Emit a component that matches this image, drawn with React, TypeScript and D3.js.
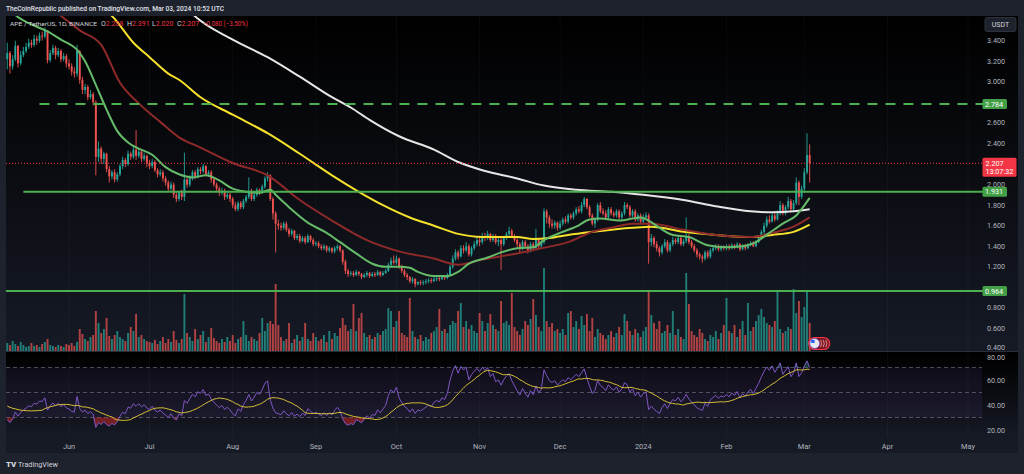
import React, { useEffect, useRef } from 'react';
import * as d3 from 'd3';

// daily candles, first one is 2023-05-09, last one 2024-03-03
const firstDay = Date.UTC(2023, 4, 9);
const firstOpen = 3.22;

const closes = [
  // May
  3.28, 3.15, 3.22, 3.35, 3.18, 3.26, 3.30, 3.34, 3.38, 3.36, 3.42, 3.40, 3.45, 3.44, 3.50, 3.21, 3.28, 3.33, 3.26, 3.30, 3.22, 3.25, 3.18,
  // Jun
  3.15, 3.10, 3.08, 3.30, 3.02, 2.92, 2.95, 2.85, 2.88, 2.80, 2.27, 2.35, 2.25, 2.30, 2.15, 2.08, 2.12, 2.05, 2.10, 2.18, 2.24, 2.20, 2.30, 2.27, 2.34, 2.28, 2.32, 2.25, 2.28, 2.21,
  // Jul
  2.18, 2.22, 2.14, 2.10, 2.12, 2.06, 2.02, 1.96, 2.00, 1.90, 1.86, 1.92, 1.88, 2.05, 2.00, 2.06, 2.12, 2.08, 2.15, 2.13, 2.18, 2.10, 2.12, 2.05, 2.00, 1.96, 1.92, 1.94, 1.88, 1.90, 1.86,
  // Aug
  1.80, 1.76, 1.82, 1.78, 1.84, 1.88, 1.94, 1.86, 1.90, 1.95, 1.93, 1.98, 2.06, 2.09, 1.86, 1.72, 1.62, 1.60, 1.58, 1.62, 1.56, 1.52, 1.55, 1.48, 1.50, 1.45, 1.48, 1.44, 1.50, 1.46, 1.42,
  // Sep
  1.43, 1.40, 1.38, 1.40, 1.36, 1.38, 1.35, 1.38, 1.40, 1.36, 1.25, 1.16, 1.13, 1.14, 1.12, 1.15, 1.13, 1.10, 1.12, 1.14, 1.11, 1.13, 1.12, 1.15, 1.12, 1.14, 1.16, 1.22, 1.26, 1.24,
  // Oct
  1.28, 1.20, 1.16, 1.12, 1.10, 1.06, 1.08, 1.03, 1.05, 1.04, 1.05, 1.06, 1.07, 1.06, 1.08, 1.09, 1.08, 1.10, 1.09, 1.12, 1.20, 1.28, 1.34, 1.30, 1.38, 1.36, 1.40, 1.32, 1.38, 1.42, 1.46,
  // Nov
  1.44, 1.50, 1.48, 1.52, 1.46, 1.50, 1.44, 1.46, 1.42, 1.48, 1.52, 1.55, 1.50, 1.46, 1.42, 1.38, 1.44, 1.40, 1.36, 1.42, 1.38, 1.47, 1.40, 1.44, 1.74, 1.68, 1.62, 1.60, 1.63, 1.58,
  // Dec
  1.62, 1.66, 1.64, 1.70, 1.68, 1.72, 1.76, 1.74, 1.80, 1.86, 1.78, 1.70, 1.62, 1.66, 1.80, 1.74, 1.72, 1.68, 1.76, 1.72, 1.70, 1.74, 1.68, 1.72, 1.80, 1.78, 1.70, 1.74, 1.66, 1.70, 1.64,
  // Jan
  1.68, 1.70, 1.44, 1.48, 1.42, 1.38, 1.34, 1.40, 1.44, 1.36, 1.42, 1.46, 1.44, 1.48, 1.42, 1.45, 1.50, 1.44, 1.40, 1.36, 1.32, 1.30, 1.28, 1.34, 1.30, 1.36, 1.38, 1.40, 1.37, 1.39, 1.38,
  // Feb
  1.40, 1.38, 1.41, 1.39, 1.42, 1.37, 1.40, 1.38, 1.41, 1.43, 1.40, 1.44, 1.48, 1.54, 1.60, 1.66, 1.64, 1.70, 1.66, 1.72, 1.80, 1.72, 1.78, 1.84, 1.76, 1.82, 2.02, 1.88, 1.96,
  // Mar
  2.12, 2.288, 2.207,
];

const highs = [
  3.38, 3.30, 3.26, 3.40, 3.36, 3.30, 3.34, 3.38, 3.42, 3.41, 3.46, 3.45, 3.48, 3.49, 3.53, 3.50, 3.31, 3.36, 3.35, 3.33, 3.32, 3.28, 3.27,
  3.22, 3.18, 3.14, 3.36, 3.31, 3.05, 2.98, 2.97, 2.92, 2.90, 2.82, 2.42, 2.37, 2.32, 2.31, 2.18, 2.14, 2.15, 2.12, 2.20, 2.27, 2.26, 2.33, 2.32, 2.38, 2.53, 2.35, 2.33, 2.31, 2.29,
  2.24, 2.25, 2.24, 2.16, 2.15, 2.14, 2.08, 2.04, 2.03, 2.02, 1.93, 1.94, 1.95, 2.31, 2.08, 2.09, 2.14, 2.14, 2.17, 2.17, 2.20, 2.19, 2.14, 2.14, 2.07, 2.02, 1.98, 1.97, 1.96, 1.92, 1.92,
  1.88, 1.83, 1.84, 1.84, 1.86, 1.90, 2.07, 1.96, 1.92, 1.97, 1.96, 2.00, 2.08, 2.12, 2.10, 1.88, 1.74, 1.66, 1.63, 1.64, 1.64, 1.58, 1.57, 1.56, 1.52, 1.52, 1.50, 1.50, 1.52, 1.51, 1.48,
  1.45, 1.45, 1.42, 1.42, 1.41, 1.40, 1.39, 1.40, 1.42, 1.41, 1.37, 1.27, 1.18, 1.16, 1.16, 1.17, 1.16, 1.14, 1.14, 1.16, 1.15, 1.15, 1.15, 1.17, 1.16, 1.16, 1.18, 1.24, 1.29, 1.31,
  1.31, 1.29, 1.22, 1.18, 1.14, 1.11, 1.10, 1.09, 1.06, 1.07, 1.07, 1.08, 1.09, 1.09, 1.10, 1.11, 1.11, 1.12, 1.12, 1.14, 1.22, 1.31, 1.37, 1.36, 1.41, 1.41, 1.44, 1.42, 1.40, 1.45, 1.49,
  1.50, 1.53, 1.53, 1.55, 1.53, 1.52, 1.52, 1.48, 1.48, 1.50, 1.54, 1.59, 1.57, 1.52, 1.48, 1.44, 1.46, 1.46, 1.42, 1.44, 1.44, 1.57, 1.48, 1.46, 1.77, 1.76, 1.70, 1.66, 1.65, 1.64,
  1.65, 1.68, 1.69, 1.72, 1.72, 1.74, 1.78, 1.79, 1.83, 1.88, 1.87, 1.80, 1.72, 1.68, 1.82, 1.83, 1.77, 1.75, 1.78, 1.78, 1.74, 1.76, 1.76, 1.74, 1.83, 1.82, 1.80, 1.76, 1.76, 1.72, 1.72,
  1.71, 1.73, 1.72, 1.52, 1.50, 1.45, 1.40, 1.42, 1.47, 1.46, 1.44, 1.49, 1.48, 1.50, 1.50, 1.47, 1.68, 1.52, 1.46, 1.42, 1.38, 1.34, 1.32, 1.36, 1.36, 1.38, 1.40, 1.42, 1.42, 1.41, 1.41,
  1.42, 1.42, 1.43, 1.42, 1.44, 1.43, 1.42, 1.42, 1.43, 1.45, 1.45, 1.46, 1.50, 1.56, 1.63, 1.69, 1.70, 1.73, 1.74, 1.75, 1.84, 1.82, 1.80, 1.88, 1.86, 1.85, 2.07, 2.04, 1.99,
  2.16, 2.50, 2.391,
];

const lows = [
  3.12, 3.08, 3.12, 3.20, 3.14, 3.16, 3.24, 3.28, 3.32, 3.33, 3.34, 3.36, 3.38, 3.40, 3.42, 3.18, 3.19, 3.26, 3.22, 3.24, 3.19, 3.20, 3.14,
  3.12, 3.06, 3.04, 3.05, 2.98, 2.88, 2.88, 2.82, 2.83, 2.77, 2.09, 2.22, 2.20, 2.20, 2.12, 2.02, 2.05, 2.02, 2.03, 2.08, 2.15, 2.17, 2.18, 2.24, 2.25, 2.24, 2.26, 2.22, 2.23, 2.17,
  2.15, 2.16, 2.12, 2.07, 2.08, 2.03, 1.99, 1.93, 1.94, 1.87, 1.83, 1.84, 1.85, 1.84, 1.97, 1.98, 2.04, 2.05, 2.06, 2.10, 2.11, 2.08, 2.08, 2.02, 1.98, 1.93, 1.89, 1.90, 1.85, 1.86, 1.83,
  1.77, 1.74, 1.74, 1.76, 1.76, 1.82, 1.86, 1.84, 1.84, 1.88, 1.90, 1.91, 1.96, 2.03, 1.84, 1.66, 1.34, 1.56, 1.55, 1.56, 1.54, 1.49, 1.50, 1.46, 1.46, 1.43, 1.44, 1.42, 1.43, 1.44, 1.40,
  1.40, 1.38, 1.36, 1.36, 1.34, 1.34, 1.33, 1.33, 1.36, 1.34, 1.22, 1.13, 1.10, 1.11, 1.10, 1.11, 1.11, 1.08, 1.09, 1.10, 1.09, 1.10, 1.10, 1.11, 1.10, 1.11, 1.13, 1.15, 1.20, 1.22,
  1.22, 1.18, 1.14, 1.10, 1.07, 1.04, 1.04, 1.00, 1.02, 1.02, 1.02, 1.03, 1.04, 1.04, 1.05, 1.06, 1.06, 1.07, 1.07, 1.08, 1.11, 1.18, 1.26, 1.27, 1.29, 1.33, 1.34, 1.30, 1.30, 1.36, 1.40,
  1.40, 1.42, 1.45, 1.46, 1.44, 1.44, 1.42, 1.40, 1.17, 1.40, 1.46, 1.50, 1.48, 1.44, 1.39, 1.34, 1.36, 1.38, 1.33, 1.34, 1.35, 1.36, 1.38, 1.38, 1.42, 1.62, 1.58, 1.57, 1.57, 1.55,
  1.56, 1.60, 1.62, 1.62, 1.66, 1.66, 1.70, 1.72, 1.72, 1.78, 1.76, 1.68, 1.60, 1.58, 1.64, 1.72, 1.70, 1.66, 1.66, 1.70, 1.68, 1.68, 1.66, 1.66, 1.70, 1.76, 1.68, 1.68, 1.64, 1.64, 1.62,
  1.62, 1.66, 1.23, 1.40, 1.39, 1.35, 1.30, 1.32, 1.38, 1.34, 1.34, 1.40, 1.42, 1.42, 1.40, 1.40, 1.43, 1.42, 1.38, 1.34, 1.29, 1.27, 1.24, 1.26, 1.28, 1.28, 1.34, 1.36, 1.35, 1.35, 1.36,
  1.36, 1.36, 1.37, 1.37, 1.38, 1.35, 1.36, 1.36, 1.37, 1.40, 1.39, 1.39, 1.43, 1.47, 1.52, 1.58, 1.62, 1.63, 1.64, 1.65, 1.70, 1.70, 1.70, 1.76, 1.74, 1.74, 1.80, 1.80, 1.86,
  1.92, 2.10, 2.020,
];

// volume, millions of APE
const volumes = [
  8, 6, 10, 7, 5, 9, 6, 4, 5, 8, 5, 6, 4, 7, 9, 12, 6, 5, 4, 6, 5, 4, 7,
  6, 8, 5, 9, 22, 17, 12, 10, 14, 16, 40, 28, 18, 22, 33, 15, 12, 16, 20, 14, 12, 10, 18, 24, 20, 37, 14, 16, 12, 10,
  9, 8, 11, 7, 10, 14, 8, 12, 9, 20, 11, 8, 12, 57, 18, 14, 10, 22, 12, 16, 20, 9, 14, 23, 13, 10, 8, 12, 9, 14, 10,
  16, 8, 12, 14, 30, 16, 10, 14, 12, 10, 18, 33, 20, 28, 30, 27, 67, 26, 14, 10, 12, 28, 8, 12, 16, 10, 14, 28, 12, 10, 18,
  14, 10, 12, 16, 9, 20, 12, 18, 15, 23, 33, 26, 20, 22, 47, 20, 33, 38, 18, 14, 16, 12, 14, 18, 16, 20, 22, 43, 40, 24,
  30, 40, 18, 16, 14, 53, 20, 14, 12, 16, 10, 14, 12, 18, 20, 24, 42, 20, 22, 18, 26, 30, 28, 40, 48, 24, 30, 22, 26, 20, 18,
  38, 30, 20, 28, 37, 26, 22, 20, 50, 28, 30, 26, 58, 24, 20, 16, 22, 30, 26, 32, 52, 36, 24, 20, 83, 30, 24, 28, 20, 22,
  18, 22, 16, 38, 40, 24, 30, 22, 35, 26, 37, 20, 33, 14, 22, 18, 16, 12, 16, 20, 14, 18, 24, 16, 37, 30, 20, 16, 22, 18, 14,
  20, 24, 59, 36, 28, 22, 30, 18, 20, 26, 18, 40, 16, 22, 14, 12, 78, 47, 20, 16, 14, 22, 18, 12, 10, 16, 14, 20, 12, 18, 26,
  53, 20, 18, 26, 14, 22, 30, 16, 48, 20, 24, 30, 36, 42, 34, 28, 26, 24, 30, 61, 22, 18, 20, 24, 22, 62, 38, 50, 34,
  44, 60, 28,
];

// moving averages: [day index, value]
const ma20: [number, number][] = [
  [0, 3.72], [4, 3.63], [8, 3.57], [15, 3.49], [20, 3.41], [26, 3.31], [29, 3.20], [33, 2.97], [37, 2.73], [41, 2.52],
  [45, 2.41], [49, 2.35], [54, 2.29], [59, 2.17], [64, 2.10], [69, 2.07], [74, 2.09], [79, 2.04], [84, 1.96], [89, 1.93],
  [94, 1.92], [98, 1.95], [100, 1.90], [105, 1.78], [112, 1.63], [119, 1.53], [124, 1.44], [130, 1.33], [136, 1.23],
  [141, 1.20], [146, 1.20], [150, 1.19], [153, 1.15], [159, 1.11], [164, 1.11], [168, 1.15], [172, 1.23], [179, 1.29],
  [184, 1.34], [190, 1.38], [196, 1.39], [200, 1.46], [206, 1.53], [212, 1.59], [217, 1.66], [221, 1.67], [228, 1.65],
  [236, 1.68], [239, 1.65], [243, 1.58], [248, 1.51], [254, 1.49], [261, 1.41], [268, 1.39], [274, 1.40], [279, 1.44],
  [284, 1.53], [289, 1.62], [294, 1.70], [299, 1.87],
];
const ma50: [number, number][] = [
  [15, 3.75], [21, 3.62], [27, 3.50], [35, 3.36], [42, 2.99], [49, 2.79], [57, 2.61], [64, 2.46], [72, 2.36], [84, 2.21],
  [97, 2.09], [109, 1.85], [121, 1.65], [134, 1.46], [146, 1.35], [159, 1.28], [168, 1.22], [177, 1.27], [190, 1.33],
  [199, 1.38], [209, 1.44], [218, 1.54], [225, 1.58], [233, 1.62], [240, 1.62], [252, 1.56], [264, 1.51], [277, 1.49],
  [285, 1.53], [293, 1.59], [299, 1.68],
];
const ma100: [number, number][] = [
  [35, 3.72], [39, 3.64], [47, 3.38], [53, 3.24], [60, 3.08], [64, 3.02], [72, 2.85], [84, 2.68], [97, 2.50], [109, 2.30],
  [121, 2.09], [131, 1.93], [140, 1.80], [150, 1.68], [159, 1.60], [168, 1.52], [177, 1.49], [190, 1.49], [196, 1.47],
  [202, 1.48], [209, 1.51], [218, 1.54], [233, 1.58], [240, 1.59], [252, 1.54], [264, 1.51], [277, 1.49], [285, 1.51],
  [293, 1.54], [299, 1.61],
];
const ma200: [number, number][] = [
  [64, 3.80], [69, 3.66], [84, 3.41], [97, 3.24], [109, 3.05], [121, 2.85], [128, 2.75], [135, 2.63], [146, 2.47],
  [159, 2.34], [168, 2.22], [177, 2.14], [190, 2.06], [200, 1.99], [212, 1.95], [225, 1.93], [237, 1.90], [252, 1.85],
  [264, 1.79], [277, 1.74], [285, 1.73], [293, 1.74], [299, 1.76],
];

// horizontal levels drawn on the chart
const levelPrices = [2.784, 1.931, 0.964];
const levelFromDay = [12, 6, -3];
const levelDashed = [true, false, false];

// RSI(14) state before the first visible day
const rsiSeedGain = 0.035;
const rsiSeedLoss = 0.09;
const rsiSignalSeed = 40;

const priceTicks = [0.4, 0.6, 0.8, 1.0, 1.2, 1.4, 1.6, 1.8, 2.0, 2.2, 2.4, 2.6, 2.8, 3.0, 3.2, 3.4];
const rsiTicks = [20, 40, 60, 80];
const rsiGuides = [70, 50, 30];
const monthDates = ['2023-06-01', '2023-07-01', '2023-08-01', '2023-09-01', '2023-10-01', '2023-11-01', '2023-12-01', '2024-01-01', '2024-02-01', '2024-03-01', '2024-04-01', '2024-05-01'];
const monthNames = ['Jun', 'Jul', 'Aug', 'Sep', 'Oct', 'Nov', 'Dec', '2024', 'Feb', 'Mar', 'Apr', 'May'];

const lastPrice = 2.207;
const countdown = '13:07:32';
const headerText = 'TheCoinRepublic published on TradingView.com, Mar 03, 2024 10:52 UTC';
const symbolText = 'APE / TetherUS, 1D, BINANCE';
const ohlcLabels = ['O', 'H', 'L', 'C'];
const ohlcValues = ['2.288', '2.391', '2.020', '2.207'];
const changeText = '\u22120.080 (\u22123.50%)';

const FONT = 'Roboto, "Liberation Sans", Arial, sans-serif';
const UP = '#26a69a';
const DOWN = '#ef5350';

const App: React.FC = () => {
  const ref = useRef<SVGSVGElement | null>(null);

  useEffect(() => {
    if (ref.current) draw();
  }, []);

  const draw = () => {
    const svg = d3.select(ref.current);
    svg.selectAll('*').remove();

    const plotL = 6, plotR = 983, axisR = 1018;
    const priceTop = 16, priceBot = 351;
    const rsiTop = 352, rsiBot = 437, timeBot = 453;

    const DAY = 86400000;
    const dateOf = (i: number) => new Date(firstDay + i * DAY);

    const x = d3.scaleUtc()
      .domain([new Date(Date.UTC(2023, 5, 1)), new Date(Date.UTC(2024, 4, 1))])
      .range([69, 968]);
    const y = d3.scaleLinear().domain([0.4, 3.4]).range([349, 40.7]);
    const yVol = d3.scaleLinear().domain([0, 84]).range([priceBot, priceBot - 84]);
    const yR = d3.scaleLinear().domain([20, 80]).range([430, 355]);

    const candles = closes.map((c, i) => {
      const o = i === 0 ? firstOpen : closes[i - 1];
      return { d: dateOf(i), o, c, h: Math.max(highs[i], o, c), l: Math.min(lows[i], o, c), v: volumes[i] };
    });

    const defs = svg.append('defs');
    const grad = defs.append('linearGradient').attr('id', 'paneBg').attr('x1', 0).attr('y1', 0).attr('x2', 0).attr('y2', 1);
    grad.append('stop').attr('offset', 0).attr('stop-color', '#000000');
    grad.append('stop').attr('offset', 1).attr('stop-color', '#161a25');
    defs.append('clipPath').attr('id', 'priceClip').append('rect')
      .attr('x', plotL).attr('y', priceTop).attr('width', plotR - plotL).attr('height', priceBot - priceTop);
    defs.append('clipPath').attr('id', 'rsiClip').append('rect')
      .attr('x', plotL).attr('y', rsiTop).attr('width', plotR - plotL).attr('height', rsiBot - rsiTop);

    // frame and backgrounds
    svg.append('rect').attr('width', 1024).attr('height', 474).attr('fill', '#1e222d');
    svg.append('rect').attr('x', plotL).attr('y', priceTop).attr('width', axisR - plotL).attr('height', priceBot - priceTop).attr('fill', 'url(#paneBg)');
    svg.append('rect').attr('x', plotL).attr('y', rsiTop).attr('width', axisR - plotL).attr('height', rsiBot - rsiTop).attr('fill', 'url(#paneBg)');
    svg.append('rect').attr('x', plotL).attr('y', rsiBot).attr('width', axisR - plotL).attr('height', timeBot - rsiBot).attr('fill', '#161a25');
    svg.append('line').attr('x1', plotL).attr('x2', axisR).attr('y1', priceBot + 0.5).attr('y2', priceBot + 0.5).attr('stroke', '#2a2e39');

    // vertical grid at month starts
    svg.append('g').selectAll('line').data(monthDates).enter().append('line')
      .attr('x1', d => x(new Date(d + 'T00:00:00Z')))
      .attr('x2', d => x(new Date(d + 'T00:00:00Z')))
      .attr('y1', priceTop).attr('y2', rsiBot)
      .attr('stroke', '#ffffff').attr('stroke-opacity', 0.035);

    const price = svg.append('g').attr('clip-path', 'url(#priceClip)');

    // volume
    const bw = 1.9;
    price.append('g').selectAll('rect').data(candles).enter().append('rect')
      .attr('x', d => x(d.d) - bw / 2)
      .attr('y', d => yVol(d.v))
      .attr('width', bw)
      .attr('height', d => priceBot - yVol(d.v))
      .attr('fill', d => (d.c >= d.o ? UP : DOWN))
      .attr('opacity', 0.72);

    // candles
    const cg = price.append('g');
    cg.selectAll('line').data(candles).enter().append('line')
      .attr('x1', d => x(d.d)).attr('x2', d => x(d.d))
      .attr('y1', d => y(d.h)).attr('y2', d => y(d.l))
      .attr('stroke', d => (d.c >= d.o ? UP : DOWN)).attr('stroke-width', 0.9);
    cg.selectAll('rect').data(candles).enter().append('rect')
      .attr('x', d => x(d.d) - bw / 2)
      .attr('y', d => y(Math.max(d.o, d.c)))
      .attr('width', bw)
      .attr('height', d => Math.max(0.8, Math.abs(y(d.o) - y(d.c))))
      .attr('fill', d => (d.c >= d.o ? UP : DOWN));

    // moving averages
    const maLine = d3.line<[number, number]>()
      .x(d => x(dateOf(d[0])))
      .y(d => y(d[1]))
      .curve(d3.curveMonotoneX);
    const mas: [[number, number][], string][] = [
      [ma200, '#e6e6e6'], [ma100, '#f5e12c'], [ma50, '#8f2a2a'], [ma20, '#66bb6a'],
    ];
    mas.forEach(([data, color]) => {
      price.append('path').attr('d', maLine(data) || '').attr('fill', 'none')
        .attr('stroke', color).attr('stroke-width', 2);
    });

    // levels
    levelPrices.forEach((p, k) => {
      price.append('line')
        .attr('x1', x(dateOf(levelFromDay[k]))).attr('x2', plotR)
        .attr('y1', y(p)).attr('y2', y(p))
        .attr('stroke', '#4caf50').attr('stroke-width', 2)
        .attr('stroke-dasharray', levelDashed[k] ? '10,8' : null);
    });
    price.append('line')
      .attr('x1', plotL).attr('x2', plotR).attr('y1', y(lastPrice)).attr('y2', y(lastPrice))
      .attr('stroke', '#f23645').attr('stroke-width', 1).attr('stroke-dasharray', '1,2');

    // event marker near last volume bar
    const last = candles[candles.length - 1];
    const mx = x(last.d) + 5;
    svg.append('rect').attr('x', mx - 6).attr('y', 337.5).attr('width', 21).attr('height', 12).attr('rx', 6)
      .attr('fill', '#7a1a24').attr('stroke', '#f23645').attr('stroke-width', 1.2);
    svg.append('circle').attr('cx', mx).attr('cy', 343.5).attr('r', 5).attr('fill', '#e9e9ef').attr('stroke', '#7e57c2').attr('stroke-width', 1);
    svg.append('rect').attr('x', mx - 3.5).attr('y', 340).attr('width', 3.5).attr('height', 3).attr('fill', '#2962ff');
    [0, 1, 2].forEach(k => {
      svg.append('path').attr('d', `M${mx + 6 + k * 2.6},340 q2,3.5 0,7`).attr('fill', 'none').attr('stroke', '#f7a1a8').attr('stroke-width', 0.8);
    });

    // RSI
    const rsiVals: number[] = [];
    let ag = rsiSeedGain, al = rsiSeedLoss;
    closes.forEach((c, i) => {
      if (i > 0) {
        const ch = c - closes[i - 1];
        ag = (ag * 13 + Math.max(ch, 0)) / 14;
        al = (al * 13 + Math.max(-ch, 0)) / 14;
      }
      rsiVals.push(100 - 100 / (1 + ag / al));
    });
    const signal = rsiVals.map((_, i) => {
      const win = rsiVals.slice(Math.max(0, i - 13), i + 1);
      const missing = 14 - win.length;
      return (d3.sum(win) + missing * rsiSignalSeed) / 14;
    });

    const rsiG = svg.append('g').attr('clip-path', 'url(#rsiClip)');
    rsiG.append('rect').attr('x', plotL).attr('width', plotR - 1 - plotL)
      .attr('y', yR(70)).attr('height', yR(30) - yR(70)).attr('fill', '#7e57c2').attr('fill-opacity', 0.1);
    rsiGuides.forEach(g => {
      rsiG.append('line').attr('x1', plotL).attr('x2', plotR - 1).attr('y1', yR(g)).attr('y2', yR(g))
        .attr('stroke', '#787b86').attr('stroke-opacity', 0.6).attr('stroke-dasharray', '4,3');
    });
    const xi = (i: number) => x(dateOf(i));
    rsiG.append('path')
      .attr('d', d3.area<number>().x((_, i) => xi(i)).y0(yR(30)).y1(v => yR(Math.min(v, 30)))(rsiVals) || '')
      .attr('fill', '#c62828').attr('fill-opacity', 0.55);
    rsiG.append('path')
      .attr('d', d3.area<number>().x((_, i) => xi(i)).y0(yR(70)).y1(v => yR(Math.max(v, 70)))(rsiVals) || '')
      .attr('fill', '#26a69a').attr('fill-opacity', 0.35);
    rsiG.append('path').attr('d', d3.line<number>().x((_, i) => xi(i)).y(v => yR(v))(rsiVals) || '')
      .attr('fill', 'none').attr('stroke', '#7e57c2').attr('stroke-width', 1);
    rsiG.append('path').attr('d', d3.line<number>().x((_, i) => xi(i)).y(v => yR(v))(signal) || '')
      .attr('fill', 'none').attr('stroke', '#d6bf35').attr('stroke-width', 1);

    // price axis labels (the ones under a price badge stay hidden, as on the chart)
    const badgePrices = [...levelPrices, lastPrice];
    priceTicks
      .filter(t => badgePrices.every(b => Math.abs(y(t) - y(b)) > 6))
      .forEach(t => {
        svg.append('text').attr('x', 987).attr('y', Math.min(y(t), 347.5)).attr('dy', '0.35em').text(t.toFixed(3))
          .attr('font-family', FONT).attr('font-size', 7.2).attr('fill', '#b2b5be');
      });
    rsiTicks.forEach(t => {
      svg.append('text').attr('x', 987).attr('y', Math.max(yR(t), 357)).attr('dy', '0.35em').text(t.toFixed(2))
        .attr('font-family', FONT).attr('font-size', 7.2).attr('fill', '#b2b5be');
    });

    // price badges
    levelPrices.forEach(p => {
      svg.append('rect').attr('x', 982.5).attr('y', y(p) - 5).attr('width', 24.5).attr('height', 10).attr('rx', 1.5).attr('fill', '#43a047');
      svg.append('text').attr('x', 985).attr('y', y(p)).attr('dy', '0.35em').text(p.toFixed(3))
        .attr('font-family', FONT).attr('font-size', 7.2).attr('fill', '#ffffff');
    });
    svg.append('rect').attr('x', 982.5).attr('y', y(lastPrice) - 5.5).attr('width', 34).attr('height', 19).attr('rx', 1.5).attr('fill', '#f23645');
    svg.append('text').attr('x', 985.5).attr('y', y(lastPrice)).attr('dy', '0.35em').text(lastPrice.toFixed(3))
      .attr('font-family', FONT).attr('font-size', 7.2).attr('fill', '#ffffff');
    svg.append('text').attr('x', 985.5).attr('y', y(lastPrice) + 8.5).attr('dy', '0.35em').text(countdown)
      .attr('font-family', FONT).attr('font-size', 7.2).attr('fill', '#ffffff');

    // currency box
    svg.append('rect').attr('x', 985).attr('y', 17.5).attr('width', 31).attr('height', 14).attr('rx', 2)
      .attr('fill', '#1e222d').attr('stroke', '#363a45').attr('stroke-width', 0.8);
    svg.append('text').attr('x', 1000.5).attr('y', 24.5).attr('dy', '0.35em').attr('text-anchor', 'middle').text('USDT')
      .attr('font-family', FONT).attr('font-size', 7).attr('fill', '#d1d4dc');

    // time axis
    monthDates.forEach((d, k) => {
      svg.append('text').attr('x', x(new Date(d + 'T00:00:00Z'))).attr('y', 448.5)
        .attr('text-anchor', 'middle').text(monthNames[k])
        .attr('font-family', FONT).attr('font-size', 7.4).attr('fill', '#b2b5be');
    });

    // header and legend
    svg.append('text').attr('x', 6).attr('y', 10.5).text(headerText)
      .attr('textLength', 218).attr('lengthAdjust', 'spacingAndGlyphs')
      .attr('font-family', FONT).attr('font-size', 8).attr('font-weight', 500).attr('fill', '#e0e3eb');

    const legendFont = (t: d3.Selection<SVGTextElement, unknown, null, undefined>, size: number) =>
      t.attr('font-family', FONT).attr('font-size', size).attr('y', 26);
    svg.append('text').attr('x', 10).text(symbolText).attr('fill', '#d1d4dc')
      .attr('textLength', 87).attr('lengthAdjust', 'spacingAndGlyphs').call(legendFont as any, 6.1);
    const ohlcX = [101, 127, 152, 177];
    ohlcLabels.forEach((lab, k) => {
      const t = svg.append('text').attr('x', ohlcX[k]).call(legendFont as any, 7);
      t.append('tspan').text(lab).attr('fill', '#d1d4dc');
      t.append('tspan').text(ohlcValues[k]).attr('fill', '#f23645');
    });
    svg.append('text').attr('x', 203).text(changeText).attr('fill', '#f23645')
      .attr('textLength', 45).attr('lengthAdjust', 'spacingAndGlyphs').call(legendFont as any, 6.8);

    // footer
    svg.append('text').attr('x', 6).attr('y', 467).text('TV')
      .attr('font-family', FONT).attr('font-size', 8).attr('font-weight', 900).attr('fill', '#d1d4dc');
    svg.append('text').attr('x', 18).attr('y', 467).text('TradingView')
      .attr('textLength', 40).attr('lengthAdjust', 'spacingAndGlyphs')
      .attr('font-family', FONT).attr('font-size', 8).attr('fill', '#d1d4dc');
  };

  return (
    <svg
      ref={ref}
      width={1024}
      height={474}
      style={{ position: 'absolute', left: 0, top: 0, display: 'block' }}
    />
  );
};

export default App;
